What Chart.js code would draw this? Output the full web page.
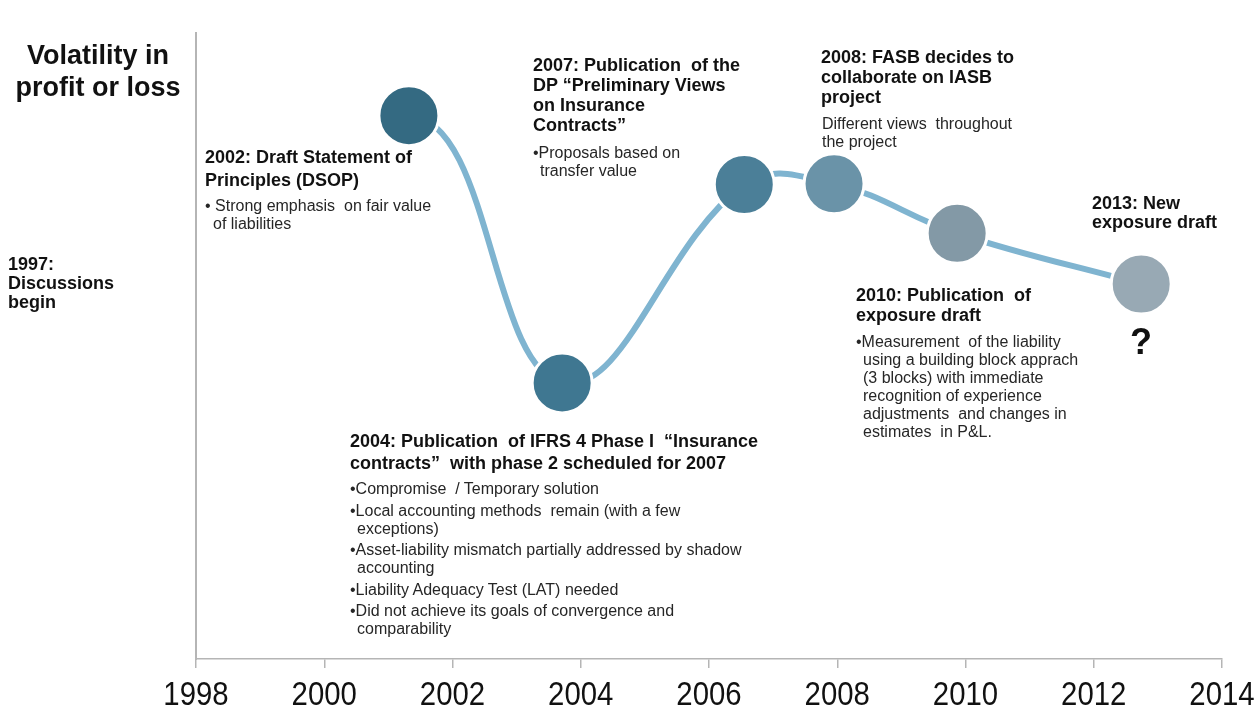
<!DOCTYPE html>
<html>
<head>
<meta charset="utf-8">
<script src="https://cdn.jsdelivr.net/npm/chart.js@4.4.1/dist/chart.umd.min.js"></script>
<style>
    html, body { margin: 0; padding: 0; background: #ffffff; }
    #wrap { position: relative; width: 1260px; height: 707px; overflow: hidden; }
    #timeline { position: absolute; left: 0; top: 0; }
    .note { position: absolute; font-family: "Liberation Sans", Arial, sans-serif; color: #111; white-space: nowrap; }
    .head { font-weight: bold; font-size: 18px; }
    .body { font-size: 16px; line-height: 18px; color: #262626; }
    .bul { padding-left: 7px; text-indent: -7px; }
    .bul + .bul { margin-top: 3.5px; }
</style>
</head>
<body>
<div id="wrap">
    <canvas id="timeline" width="1260" height="707"></canvas>

    <div class="note head" style="left:0; top:39px; width:196px; text-align:center; font-size:27px; line-height:32px;">Volatility in<br>profit or loss</div>

    <div class="note head" style="left:8px; top:255px; line-height:19px;">1997:<br>Discussions<br>begin</div>

    <div class="note head" style="left:205px; top:146px; line-height:23px;">2002: Draft Statement of<br>Principles (DSOP)</div>
    <div class="note body" style="left:205px; top:197px;"><div class="bul" style="padding-left:8px; text-indent:-8px;">• Strong emphasis&nbsp; on fair value<br>of liabilities</div></div>

    <div class="note head" style="left:533px; top:55px; line-height:20px;">2007: Publication&nbsp; of the<br>DP “Preliminary Views<br>on Insurance<br>Contracts”</div>
    <div class="note body" style="left:533px; top:144px;"><div class="bul">•Proposals based on<br>transfer value</div></div>

    <div class="note head" style="left:821px; top:47px; line-height:20px;">2008: FASB decides to<br>collaborate on IASB<br>project</div>
    <div class="note body" style="left:822px; top:115px;">Different views&nbsp; throughout<br>the project</div>

    <div class="note head" style="left:1092px; top:194px; line-height:19px;">2013: New<br>exposure draft</div>
    <div class="note head" style="left:1121px; top:322px; width:40px; text-align:center; font-size:36px; line-height:40px;">?</div>

    <div class="note head" style="left:856px; top:285px; line-height:20px;">2010: Publication&nbsp; of<br>exposure draft</div>
    <div class="note body" style="left:856px; top:333px;"><div class="bul">•Measurement&nbsp; of the liability<br>using a building block apprach<br>(3 blocks) with immediate<br>recognition of experience<br>adjustments&nbsp; and changes in<br>estimates&nbsp; in P&amp;L.</div></div>

    <div class="note head" style="left:350px; top:430px; line-height:22px;">2004: Publication&nbsp; of IFRS 4 Phase I&nbsp; “Insurance<br>contracts”&nbsp; with phase 2 scheduled for 2007</div>
    <div class="note body" style="left:350px; top:480px;">
        <div class="bul">•Compromise&nbsp; / Temporary solution</div>
        <div class="bul">•Local accounting methods&nbsp; remain (with a few<br>exceptions)</div>
        <div class="bul">•Asset-liability mismatch partially addressed by shadow<br>accounting</div>
        <div class="bul">•Liability Adequacy Test (LAT) needed</div>
        <div class="bul">•Did not achieve its goals of convergence and<br>comparability</div>
    </div>
</div>

<script>
// ========== DATA ==========
// Milestone years (position along the time axis)
const milestoneYears = [1996.16, 2001.32, 2003.71, 2006.55, 2007.95, 2009.87, 2012.74];
// Relative volatility level of each milestone (0-100, no unit shown)
const volatilityLevels = [47.1, 86.8, 44.1, 75.8, 75.9, 68.0, 59.9];
// Axis ticks
const xTickYears = [1998, 2000, 2002, 2004, 2006, 2008, 2010, 2012, 2014];

// ========== STYLES ==========
const circleColors = ["#2d5f76", "#346a82", "#3f7791", "#4b7f98", "#6a93a8", "#8399a6", "#98a9b4"];
const curveColor = "#7fb4d0";
const axisColor = "#b5b5b5";

const points = milestoneYears.map((year, i) => ({ x: year, y: volatilityLevels[i] }));

// Year labels are drawn a bit narrower, like the condensed font of the original
const narrowYearLabels = {
    id: "narrowYearLabels",
    afterDraw(chart) {
        const scale = chart.scales.x;
        const c = chart.ctx;
        c.save();
        c.font = "33px 'Liberation Sans', Arial, sans-serif";
        c.fillStyle = "#111";
        c.textAlign = "center";
        c.textBaseline = "alphabetic";
        scale.ticks.forEach(tick => {
            c.save();
            c.translate(scale.getPixelForValue(tick.value), scale.bottom - 2);
            c.scale(0.89, 1);
            c.fillText(String(tick.value), 0, 0);
            c.restore();
        });
        c.restore();
    }
};

// ========== CHART ==========
const ctx = document.getElementById("timeline").getContext("2d");

new Chart(ctx, {
    type: "line",
    data: {
        datasets: [
            {
                data: points,
                borderColor: curveColor,
                borderWidth: 6,
                tension: 0.4,
                fill: false,
                clip: false,
                // the first milestone is not joined to the curve
                segment: {
                    borderColor: c => (c.p0DataIndex === 0 ? "rgba(0,0,0,0)" : curveColor)
                },
                pointRadius: 30,
                pointBorderWidth: 3,
                pointBorderColor: "#ffffff",
                pointBackgroundColor: circleColors
            }
        ]
    },
    options: {
        responsive: false,
        animation: false,
        events: [],
        layout: {
            padding: { top: 28, right: 38, bottom: 0, left: 0 }
        },
        plugins: {
            legend: { display: false },
            tooltip: { enabled: false }
        },
        scales: {
            x: {
                type: "linear",
                min: xTickYears[0],
                max: xTickYears[xTickYears.length - 1],
                afterBuildTicks: scale => {
                    scale.ticks = xTickYears.map(v => ({ value: v }));
                },
                afterFit: scale => {
                    scale.height = 48;
                },
                ticks: { display: false },
                grid: {
                    drawOnChartArea: false,
                    tickLength: 9,
                    color: axisColor,
                    lineWidth: 1.5
                },
                border: { color: axisColor, width: 1.5 }
            },
            y: {
                min: 0,
                max: 100,
                afterFit: scale => {
                    scale.width = 196;
                },
                ticks: { display: false },
                grid: { display: false },
                border: { color: axisColor, width: 2 }
            }
        }
    },
    plugins: [narrowYearLabels]
});
</script>
</body>
</html>
